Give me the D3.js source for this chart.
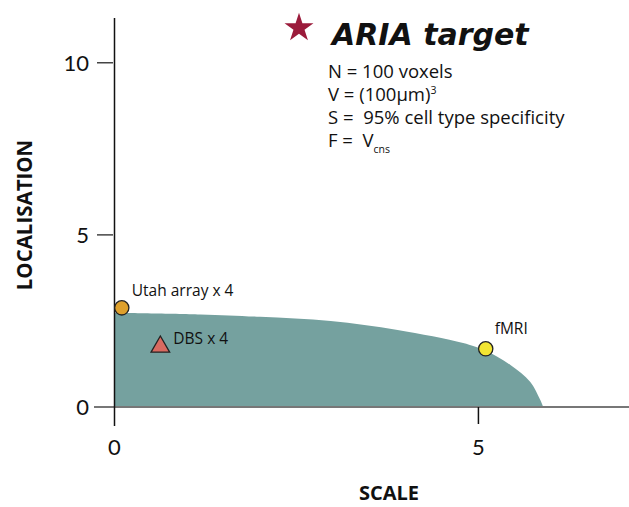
<!DOCTYPE html>
<html>
<head>
<meta charset="utf-8">
<script src="https://cdn.jsdelivr.net/npm/d3@7"></script>
<style>
  body { margin: 0; background: #fff; }
  text { font-family: "Open Sans", Lato, sans-serif; fill: #111; white-space: pre; }
</style>
</head>
<body>
<svg id="chart" width="629" height="507"></svg>
<script>
// boundary of the shaded region (scale, localisation)
var areaX = [0, 1.18, 2.0, 2.97, 3.89, 4.79, 5.07, 5.44, 5.71, 5.85, 5.89];
var areaY = [2.74, 2.69, 2.62, 2.50, 2.24, 1.86, 1.66, 1.22, 0.73, 0.20, 0];

// technologies
var techNames = ["Utah array x 4", "DBS x 4", "fMRI"];
var techX = [0.1, 0.63, 5.1];
var techY = [2.88, 1.75, 1.69];
var techShape = ["circle", "triangle", "circle"];
var techColor = ["#dea02c", "#d96a60", "#f2e532"];

var xTicks = [0, 5];
var yTicks = [0, 5, 10];

var targetLines = ["N = 100 voxels", "V = (100\u00b5m)", "S =  95% cell type specificity", "F =  V"];

var svg = d3.select("#chart");

var x = d3.scaleLinear().domain([0, 7]).range([114.5, 624]);
var y = d3.scaleLinear().domain([0, 11.3]).range([407, 18]);

// shaded area
var pts = areaX.map(function(d, i) { return [d, areaY[i]]; });
var area = d3.area()
    .x(function(d) { return x(d[0]); })
    .y0(y(0))
    .y1(function(d) { return y(d[1]); })
    .curve(d3.curveCatmullRom.alpha(0.5));
svg.append("path")
   .attr("d", area(pts))
   .attr("fill", "#75a19f");

// x axis line
svg.append("line")
   .attr("x1", 94).attr("x2", 629)
   .attr("y1", y(0)).attr("y2", y(0))
   .attr("stroke", "#777").attr("stroke-width", 2);

// y axis line
svg.append("line")
   .attr("x1", x(0)).attr("x2", x(0))
   .attr("y1", 18).attr("y2", 426)
   .attr("stroke", "#111").attr("stroke-width", 1.5);

// y ticks
svg.selectAll(".ytick")
   .data(yTicks.filter(function(d) { return d > 0; }))
   .enter().append("line")
   .attr("x1", 97).attr("x2", 113)
   .attr("y1", function(d) { return y(d); })
   .attr("y2", function(d) { return y(d); })
   .attr("stroke", "#444").attr("stroke-width", 1.5);

svg.selectAll(".ylab")
   .data(yTicks)
   .enter().append("text")
   .attr("x", 89)
   .attr("y", function(d) { return y(d) + 8; })
   .attr("text-anchor", "end")
   .attr("font-size", 22)
   .style("font-family", "Lato, sans-serif")
   .text(function(d) { return d; });

// x ticks
svg.selectAll(".xtick")
   .data(xTicks.filter(function(d) { return d > 0; }))
   .enter().append("line")
   .attr("x1", function(d) { return x(d); })
   .attr("x2", function(d) { return x(d); })
   .attr("y1", y(0)).attr("y2", 424)
   .attr("stroke", "#111").attr("stroke-width", 1.5);

svg.selectAll(".xlab")
   .data(xTicks)
   .enter().append("text")
   .attr("x", function(d) { return x(d); })
   .attr("y", 455)
   .attr("text-anchor", "middle")
   .attr("font-size", 22)
   .style("font-family", "Lato, sans-serif")
   .text(function(d) { return d; });

// axis titles
svg.append("text")
   .attr("x", 389).attr("y", 500)
   .attr("text-anchor", "middle")
   .attr("font-size", 20).attr("font-weight", "bold")
   .text("SCALE");

svg.append("text")
   .attr("transform", "translate(32,215) rotate(-90)")
   .attr("text-anchor", "middle")
   .attr("font-size", 20.5).attr("font-weight", "bold")
   .text("LOCALISATION");

// markers
var sym = { circle: d3.symbolCircle, triangle: d3.symbolTriangle };
var sz = { circle: 160, triangle: 150 };
svg.selectAll(".mark")
   .data(techNames)
   .enter().append("path")
   .attr("transform", function(d, i) { return "translate(" + x(techX[i]) + "," + y(techY[i]) + ")"; })
   .attr("d", function(d, i) { return d3.symbol().type(sym[techShape[i]]).size(sz[techShape[i]])(); })
   .attr("fill", function(d, i) { return techColor[i]; })
   .attr("stroke", "#222").attr("stroke-width", 1.3);

var labOff = [[10, -12], [13, -3], [9, -15]];
svg.selectAll(".mlab")
   .data(techNames)
   .enter().append("text")
   .attr("x", function(d, i) { return x(techX[i]) + labOff[i][0]; })
   .attr("y", function(d, i) { return y(techY[i]) + labOff[i][1]; })
   .attr("font-size", 15.5)
   .text(function(d) { return d; });

// ARIA target
svg.append("path")
   .attr("transform", "translate(299,28)")
   .attr("d", d3.symbol().type(d3.symbolStar).size(260)())
   .attr("fill", "#9b1b3b");

svg.append("text")
   .attr("x", 332).attr("y", 45)
   .attr("font-size", 30)
   .attr("font-weight", "bold")
   .attr("font-style", "italic")
   .style("font-family", "'DejaVu Sans', sans-serif")
   .text("ARIA target");

var tl = svg.selectAll(".tline")
   .data(targetLines)
   .enter().append("text")
   .attr("x", 328)
   .attr("y", function(d, i) { return 78 + i * 23; })
   .attr("font-size", 18.5)
   .text(function(d) { return d; });

tl.filter(function(d, i) { return i === 1; })
  .append("tspan").attr("dy", -7).attr("font-size", 10.5).text("3");
tl.filter(function(d, i) { return i === 3; })
  .append("tspan").attr("dy", 6).attr("font-size", 10.5).text("cns");
</script>
</body>
</html>
